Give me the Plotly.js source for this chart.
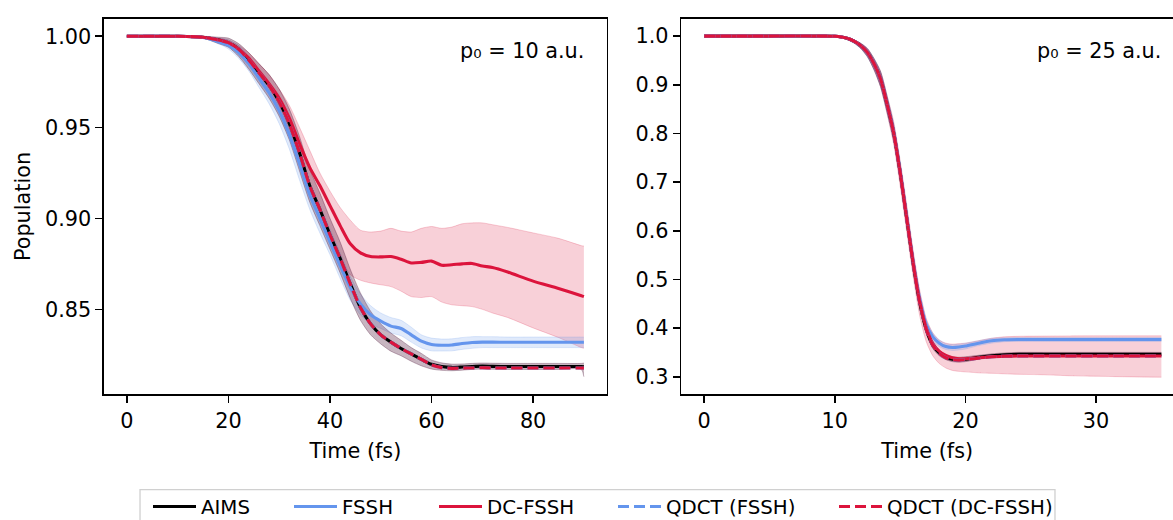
<!DOCTYPE html>
<html>
<head>
<meta charset="utf-8">
<script src="https://cdn.plot.ly/plotly-3.0.1.min.js"></script>
<style>html,body{margin:0;padding:0;background:#fff;overflow:hidden}</style>
</head>
<body>
<div id="chart" style="width:1173px;height:520px"></div>
<script>
// ---------- Data: left panel (p0 = 10 a.u.) ----------
const tL = [0,10,15,18,20,22,24,26,28,30,32,34,36,38,40,42,44,46,48,50,52,54,56,58,60,62,64,66,68,70,72,75,80,85,89.5,90];
const aimsL = [1.0,1.0,0.9995,0.998,0.9965,0.993,0.987,0.980,0.973,0.964,0.952,0.936,0.918,0.905,0.891,0.878,0.864,0.851,0.842,0.836,0.832,0.8285,0.8255,0.8225,0.8198,0.8186,0.8181,0.8183,0.8186,0.8188,0.8187,0.8186,0.8186,0.8186,0.8186,0.8185];
const aimsLoL = [1.0,1.0,0.999,0.996,0.994,0.989,0.982,0.974,0.966,0.956,0.943,0.926,0.909,0.896,0.883,0.870,0.856,0.844,0.836,0.831,0.827,0.8245,0.8215,0.819,0.8172,0.8165,0.8163,0.8166,0.817,0.8172,0.8171,0.817,0.817,0.817,0.817,0.813];
const aimsHiL = [1.0,1.0,1.0,0.9995,0.999,0.996,0.991,0.985,0.979,0.971,0.960,0.945,0.927,0.914,0.900,0.887,0.872,0.859,0.849,0.842,0.837,0.833,0.829,0.8258,0.8222,0.8206,0.8199,0.820,0.8203,0.8205,0.8204,0.8203,0.8203,0.8203,0.8203,0.8205];
const fsshL = [1.0,1.0,0.9993,0.997,0.995,0.991,0.985,0.977,0.969,0.959,0.946,0.930,0.913,0.900,0.887,0.874,0.862,0.853,0.847,0.8435,0.8408,0.8395,0.836,0.8325,0.8307,0.8303,0.8304,0.8312,0.8318,0.832,0.832,0.8319,0.8319,0.8319,0.8319,0.8319];
const fsshLoL = [1.0,1.0,0.999,0.996,0.993,0.988,0.981,0.972,0.963,0.952,0.938,0.921,0.905,0.892,0.880,0.867,0.855,0.847,0.842,0.8395,0.837,0.8355,0.832,0.8288,0.8272,0.8271,0.8272,0.828,0.8286,0.829,0.829,0.829,0.829,0.829,0.829,0.829];
const fsshHiL = [1.0,1.0,1.0,0.999,0.998,0.995,0.989,0.982,0.975,0.965,0.953,0.938,0.920,0.907,0.894,0.881,0.868,0.8585,0.852,0.848,0.8455,0.844,0.8402,0.836,0.8342,0.8337,0.8338,0.8345,0.835,0.835,0.835,0.8348,0.8348,0.8348,0.8348,0.8348];
const dcL = [1.0,1.0,0.9995,0.998,0.9965,0.993,0.988,0.981,0.974,0.966,0.955,0.941,0.928,0.918,0.907,0.896,0.886,0.881,0.879,0.8788,0.879,0.8775,0.8755,0.8758,0.8765,0.8742,0.8745,0.875,0.8752,0.8738,0.873,0.8705,0.8655,0.8615,0.8575,0.857];
const dcLoL = [1.0,1.0,0.999,0.997,0.995,0.991,0.985,0.978,0.970,0.961,0.948,0.931,0.915,0.903,0.891,0.878,0.869,0.866,0.8645,0.8635,0.8625,0.860,0.857,0.8565,0.857,0.854,0.8525,0.852,0.8515,0.850,0.848,0.8455,0.8398,0.8345,0.829,0.8286];
const dcHiL = [1.0,1.0,1.0,0.999,0.998,0.995,0.991,0.985,0.979,0.971,0.962,0.950,0.9375,0.925,0.915,0.906,0.899,0.8935,0.8925,0.893,0.8945,0.893,0.8925,0.8945,0.8955,0.8945,0.8952,0.897,0.8975,0.8975,0.8965,0.895,0.892,0.889,0.885,0.8848];
const qdctFsshL = [1.0,1.0,0.9995,0.998,0.9965,0.993,0.987,0.980,0.973,0.964,0.952,0.936,0.918,0.905,0.891,0.878,0.864,0.851,0.842,0.836,0.832,0.8285,0.8255,0.8225,0.8195,0.818,0.8176,0.8177,0.8178,0.8179,0.8178,0.8178,0.8178,0.8178,0.8178,0.8177];
const qdctDcL = [1.0,1.0,0.9995,0.998,0.9965,0.993,0.987,0.980,0.973,0.964,0.952,0.936,0.918,0.905,0.891,0.878,0.864,0.851,0.842,0.836,0.832,0.8285,0.8255,0.8225,0.8195,0.818,0.8176,0.8177,0.8178,0.8179,0.8178,0.8178,0.8178,0.8178,0.8178,0.8177];

// ---------- Data: right panel (p0 = 25 a.u.) ----------
const tR = [0,5,9,10,10.5,11,11.5,12,12.5,13,13.5,14,14.5,15,15.5,16,16.5,17,17.5,18,18.5,19,19.5,20,21,22,23,24,26,28,30,32,35];
const aimsR = [1,1,1,0.9995,0.998,0.995,0.989,0.980,0.966,0.943,0.912,0.860,0.802,0.720,0.626,0.532,0.452,0.397,0.365,0.349,0.340,0.336,0.335,0.336,0.340,0.343,0.345,0.346,0.346,0.346,0.346,0.346,0.346];
const aimsLoR = [1,1,1,0.999,0.9965,0.992,0.985,0.974,0.957,0.931,0.896,0.843,0.785,0.703,0.610,0.518,0.440,0.388,0.358,0.343,0.335,0.331,0.330,0.331,0.336,0.339,0.341,0.342,0.342,0.342,0.342,0.342,0.342];
const aimsHiR = [1,1,1,1,0.999,0.997,0.992,0.985,0.974,0.954,0.927,0.876,0.818,0.736,0.642,0.546,0.464,0.406,0.372,0.355,0.345,0.341,0.340,0.341,0.344,0.347,0.349,0.350,0.350,0.350,0.350,0.350,0.350];
const fsshR = [1,1,1,0.9995,0.998,0.995,0.989,0.980,0.966,0.943,0.912,0.861,0.804,0.723,0.630,0.537,0.460,0.407,0.382,0.369,0.362,0.360,0.361,0.363,0.369,0.374,0.376,0.3765,0.3765,0.3765,0.3765,0.3765,0.3765];
const fsshLoR = [1,1,1,0.999,0.9965,0.992,0.985,0.974,0.957,0.931,0.896,0.843,0.786,0.706,0.614,0.523,0.448,0.397,0.374,0.362,0.356,0.354,0.355,0.357,0.364,0.369,0.372,0.3725,0.3725,0.3725,0.3725,0.3725,0.3725];
const fsshHiR = [1,1,1,1,0.999,0.997,0.992,0.985,0.974,0.954,0.927,0.877,0.820,0.740,0.646,0.551,0.472,0.417,0.390,0.376,0.368,0.366,0.367,0.369,0.374,0.379,0.380,0.3805,0.3805,0.3805,0.3805,0.3805,0.3805];
const dcR = [1,1,1,0.9995,0.998,0.995,0.989,0.980,0.966,0.943,0.912,0.860,0.802,0.720,0.627,0.534,0.455,0.400,0.368,0.352,0.344,0.339,0.337,0.337,0.339,0.341,0.342,0.3425,0.3425,0.3425,0.3425,0.3425,0.3425];
const dcLoR = [1,1,1,0.999,0.997,0.993,0.986,0.975,0.958,0.930,0.895,0.840,0.778,0.692,0.598,0.505,0.425,0.372,0.343,0.327,0.318,0.313,0.311,0.310,0.308,0.307,0.306,0.305,0.304,0.302,0.301,0.300,0.299];
const dcHiR = [1,1,1,1,0.999,0.997,0.992,0.985,0.975,0.953,0.928,0.878,0.825,0.745,0.655,0.560,0.478,0.420,0.390,0.375,0.369,0.367,0.368,0.369,0.374,0.379,0.382,0.383,0.3835,0.3838,0.384,0.384,0.384];
const qdctFsshR = [1,1,1,0.9995,0.998,0.995,0.989,0.980,0.966,0.943,0.912,0.860,0.802,0.720,0.626,0.532,0.452,0.397,0.365,0.348,0.339,0.335,0.334,0.335,0.338,0.341,0.342,0.3425,0.3425,0.3425,0.3425,0.3425,0.3425];
const qdctDcR = [1,1,1,0.9995,0.998,0.995,0.989,0.980,0.966,0.943,0.912,0.860,0.802,0.720,0.626,0.532,0.452,0.397,0.365,0.348,0.339,0.335,0.334,0.335,0.338,0.341,0.342,0.3425,0.3425,0.3425,0.3425,0.3425,0.3425];

const seriesNames = ['AIMS','FSSH','DC-FSSH','QDCT (FSSH)','QDCT (DC-FSSH)'];
const tickXL = [0,20,40,60,80];
const tickYL = [0.85,0.90,0.95,1.00];
const tickXR = [0,10,20,30];
const tickYR = [0.3,0.4,0.5,0.6,0.7,0.8,0.9,1.0];
const panelLabels = ['p\u2080 = 10 a.u.','p\u2080 = 25 a.u.'];

// ---------- Styling ----------
const BLACK = '#000000', BLUE = '#6495ED', RED = '#DC143C';
const FONT = 'DejaVu Sans, sans-serif';
const FS = 20.8;
const LFS = 19.8;
const LW = 3.1;
const DASH = '11px,5px';
const SM = 0.7;

function band(x, lo, hi, color, xa, ya) {
  return [
    {x: x, y: lo, xaxis: xa, yaxis: ya, type: 'scatter', mode: 'lines',
     line: {width: 1, color: color, shape: 'spline', smoothing: SM}, showlegend: false, hoverinfo: 'skip'},
    {x: x, y: hi, xaxis: xa, yaxis: ya, type: 'scatter', mode: 'lines', fill: 'tonexty', fillcolor: color,
     line: {width: 1, color: color, shape: 'spline', smoothing: SM}, showlegend: false, hoverinfo: 'skip'}
  ];
}
function line(x, y, name, color, dash, xa, ya, show, leg) {
  return {x: x, y: y, name: name, xaxis: xa, yaxis: ya, type: 'scatter', mode: 'lines',
    line: {width: LW, color: color, dash: dash, shape: 'spline', smoothing: SM},
    showlegend: show, legend: leg};
}

const bandAims = 'rgba(70,10,45,0.30)';
const bandBlue = 'rgba(100,149,237,0.2)';
const bandRed = 'rgba(220,20,60,0.2)';
const legIds = ['legend','legend2','legend3','legend4','legend5'];

const traces = [].concat(
  band(tL, dcLoL, dcHiL, bandRed, 'x', 'y'),
  band(tL, fsshLoL, fsshHiL, bandBlue, 'x', 'y'),
  band(tL, aimsLoL, aimsHiL, bandAims, 'x', 'y'),
  [
    line(tL, aimsL, seriesNames[0], BLACK, 'solid', 'x', 'y', true, legIds[0]),
    line(tL, fsshL, seriesNames[1], BLUE, 'solid', 'x', 'y', true, legIds[1]),
    line(tL, dcL, seriesNames[2], RED, 'solid', 'x', 'y', true, legIds[2]),
    line(tL, qdctFsshL, seriesNames[3], BLUE, DASH, 'x', 'y', true, legIds[3]),
    line(tL, qdctDcL, seriesNames[4], RED, DASH, 'x', 'y', true, legIds[4])
  ],
  band(tR, dcLoR, dcHiR, bandRed, 'x2', 'y2'),
  band(tR, fsshLoR, fsshHiR, bandBlue, 'x2', 'y2'),
  band(tR, aimsLoR, aimsHiR, bandAims, 'x2', 'y2'),
  [
    line(tR, aimsR, seriesNames[0], BLACK, 'solid', 'x2', 'y2', false, legIds[0]),
    line(tR, fsshR, seriesNames[1], BLUE, 'solid', 'x2', 'y2', false, legIds[1]),
    line(tR, dcR, seriesNames[2], RED, 'solid', 'x2', 'y2', false, legIds[2]),
    line(tR, qdctFsshR, seriesNames[3], BLUE, DASH, 'x2', 'y2', false, legIds[3]),
    line(tR, qdctDcR, seriesNames[4], RED, DASH, 'x2', 'y2', false, legIds[4])
  ]
);

const axisBase = {
  showgrid: false, zeroline: false, showline: true, linecolor: BLACK, linewidth: 1.6,
  ticks: 'outside', ticklen: 7, tickwidth: 1.6, tickcolor: BLACK,
  tickfont: {family: FONT, size: FS, color: BLACK}, automargin: false
};

const legX = [148, 289, 434, 613, 834];
const layout = {
  width: 1173, height: 520,
  margin: {l: 104, r: 0, t: 19, b: 126, autoexpand: false},
  paper_bgcolor: '#ffffff', plot_bgcolor: '#ffffff',
  font: {family: FONT, size: FS, color: BLACK},
  xaxis: Object.assign({}, axisBase, {domain: [0, 0.4703], range: [-4.5, 94.5], tickvals: tickXL, mirror: true, anchor: 'y',
    title: {text: 'Time (fs)', font: {family: FONT, size: FS, color: BLACK}, standoff: 12}}),
  yaxis: Object.assign({}, axisBase, {domain: [0, 1], range: [0.8035, 1.0095], tickvals: tickYL, tickformat: '.2f', mirror: true, anchor: 'x',
    title: {text: 'Population', font: {family: FONT, size: FS, color: BLACK}, standoff: 8}}),
  xaxis2: Object.assign({}, axisBase, {domain: [0.5401, 1], range: [-1.75, 35.89], tickvals: tickXR, mirror: true, anchor: 'y2',
    title: {text: 'Time (fs)', font: {family: FONT, size: FS, color: BLACK}, standoff: 12}}),
  yaxis2: Object.assign({}, axisBase, {domain: [0, 1], range: [0.2645, 1.0351], tickvals: tickYR, tickformat: '.1f', mirror: false, anchor: 'x2'}),
  annotations: [
    {text: panelLabels[0], xref: 'paper', yref: 'paper', x: 0.4505, y: 0.9147, xanchor: 'right', yanchor: 'middle', showarrow: false, font: {family: FONT, size: FS, color: BLACK}},
    {text: panelLabels[1], xref: 'paper', yref: 'paper', x: 0.9909, y: 0.9147, xanchor: 'right', yanchor: 'middle', showarrow: false, font: {family: FONT, size: FS, color: BLACK}}
  ],
  shapes: [
    {type: 'rect', xref: 'paper', yref: 'paper', x0: 0.0337, x1: 0.8896, y0: -0.2552, y1: -0.42,
     line: {color: '#d0d0d0', width: 1.3}, fillcolor: 'rgba(255,255,255,0.8)', layer: 'below'}
  ],
  showlegend: true
};
legIds.forEach((id, i) => {
  layout[id] = {orientation: 'h', x: (legX[i] - 104) / 1069, xanchor: 'left', y: -0.3005, yanchor: 'middle',
    bgcolor: 'rgba(0,0,0,0)', borderwidth: 0, itemwidth: 43, font: {family: FONT, size: LFS, color: BLACK}};
});

Plotly.newPlot('chart', traces, layout, {displayModeBar: false, staticPlot: true});
</script>
</body>
</html>
